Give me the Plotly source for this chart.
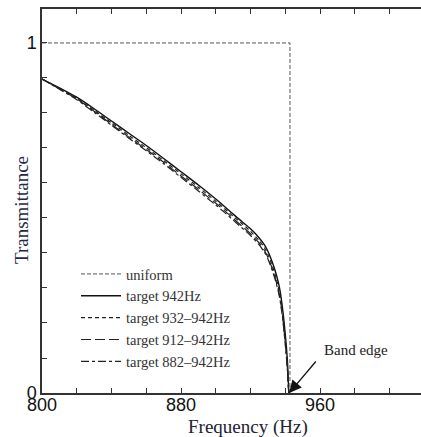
import plotly.graph_objects as go

freq = [800, 810, 820, 830, 840, 850, 860, 870, 880, 890, 900, 905, 910, 915, 920,
        925, 928, 930, 932, 934, 936, 937, 938, 939, 940, 940.5, 941, 941.5, 942]
t942 = [0.897, 0.872, 0.845, 0.812, 0.777, 0.742, 0.707, 0.670, 0.632, 0.594, 0.554, 0.533, 0.511, 0.490, 0.469,
        0.443, 0.423, 0.405, 0.381, 0.352, 0.316, 0.292, 0.258, 0.217, 0.167, 0.140, 0.108, 0.068, 0.0]
t932 = [0.897, 0.870, 0.842, 0.808, 0.772, 0.736, 0.701, 0.664, 0.626, 0.588, 0.548, 0.527, 0.505, 0.484, 0.462,
        0.435, 0.415, 0.396, 0.371, 0.341, 0.304, 0.279, 0.245, 0.203, 0.152, 0.125, 0.093, 0.053, 0.0]
t912 = [0.897, 0.869, 0.840, 0.805, 0.768, 0.731, 0.696, 0.659, 0.620, 0.582, 0.542, 0.521, 0.499, 0.477, 0.455,
        0.428, 0.407, 0.388, 0.362, 0.332, 0.295, 0.270, 0.236, 0.194, 0.143, 0.116, 0.085, 0.046, 0.0]
t882 = [0.897, 0.868, 0.838, 0.802, 0.765, 0.728, 0.692, 0.655, 0.616, 0.577, 0.537, 0.516, 0.494, 0.472, 0.450,
        0.423, 0.402, 0.383, 0.357, 0.327, 0.290, 0.265, 0.231, 0.189, 0.138, 0.111, 0.080, 0.042, 0.0]

uniform_f = [800, 942.7, 942.7]
uniform_t = [1, 1, 0]

x_tickvals = [800, 820, 840, 860, 880, 900, 920, 940, 960, 980, 1000]
x_ticktext = ["800", "", "", "", "880", "", "", "", "960", "", ""]
y_tickvals = [0, 0.1, 0.2, 0.3, 0.4, 0.5, 0.6, 0.7, 0.8, 0.9, 1.0]
y_ticktext = ["0", "", "", "", "", "", "", "", "", "", "1"]

serif = "Liberation Serif"
sans = "Liberation Sans"

# plot area in pixels: x 42..421, y 9..393
L, T, B, W = 42, 9, 44, 421
PW, PH = 421 - L, 437 - T - B


def px(xp):
    return (xp - L) / PW


def py(yp):
    return (393 - yp) / PH


fig = go.Figure()
fig.add_trace(go.Scatter(x=uniform_f, y=uniform_t, mode="lines", name="uniform", legendgroup="a",
                         line=dict(color="#555555", width=1, dash="4px,2px")))
fig.add_trace(go.Scatter(x=freq, y=t942, mode="lines", name="target 942Hz", legendgroup="b",
                         line=dict(color="#111111", width=1.4, shape="spline", smoothing=0.6)))
fig.add_trace(go.Scatter(x=freq, y=t932, mode="lines", name="target 932\u2013942Hz", legendgroup="c",
                         line=dict(color="#222222", width=1.2, dash="4px,3px", shape="spline", smoothing=0.6)))
fig.add_trace(go.Scatter(x=freq, y=t912, mode="lines", name="target 912\u2013942Hz", legendgroup="d",
                         line=dict(color="#222222", width=1.2, dash="10px,4px", shape="spline", smoothing=0.6)))
fig.add_trace(go.Scatter(x=freq, y=t882, mode="lines", name="target 882\u2013942Hz", legendgroup="e",
                         line=dict(color="#222222", width=1.2, dash="8px,3px,3px,3px", shape="spline", smoothing=0.6)))

fig.add_annotation(x=942.2, y=0, xref="x", yref="y", text="", showarrow=True,
                   ax=28, ay=-33, arrowhead=2, arrowsize=1.9, arrowwidth=1.3, arrowcolor="#111111")
fig.add_annotation(x=px(356), y=py(350), xref="paper", yref="paper", text="Band edge", showarrow=False,
                   xanchor="center", yanchor="middle",
                   font=dict(family=serif, size=15, color="#222222"))
fig.add_annotation(x=px(248), y=py(427), xref="paper", yref="paper",
                   text="Frequency (Hz)", showarrow=False, xanchor="center", yanchor="middle",
                   font=dict(family=serif, size=19, color="#222233"))
fig.add_annotation(x=px(21), y=py(210), xref="paper", yref="paper",
                   text="Transmittance", showarrow=False, textangle=-90,
                   xanchor="center", yanchor="middle",
                   font=dict(family=serif, size=19, color="#1f2a44"))

fig.update_layout(
    width=421, height=437,
    margin=dict(l=L, r=0, t=T, b=B),
    paper_bgcolor="white", plot_bgcolor="white",
    showlegend=True,
    legend=dict(x=px(76), y=py(258), xanchor="left", yanchor="top", bgcolor="rgba(0,0,0,0)",
                font=dict(family=serif, size=14.5, color="#333333"), tracegroupgap=0, itemwidth=40),
    xaxis=dict(range=[800, 1018.1], tickvals=x_tickvals, ticktext=x_ticktext,
               ticks="inside", ticklen=5, tickcolor="#333333", tickwidth=1,
               showline=True, linecolor="#333333", linewidth=1.5, mirror="ticks",
               showgrid=False, zeroline=False, ticklabelstandoff=-5,
               tickfont=dict(family=sans, size=18, color="#111111")),
    yaxis=dict(range=[0, 1.097], tickvals=y_tickvals, ticktext=y_ticktext,
               ticks="inside", ticklen=5, tickcolor="#333333", tickwidth=1,
               showline=True, linecolor="#333333", linewidth=1.5,
               showgrid=False, zeroline=False,
               tickfont=dict(family=sans, size=18, color="#111111")),
)

fig.write_html("out.html")
